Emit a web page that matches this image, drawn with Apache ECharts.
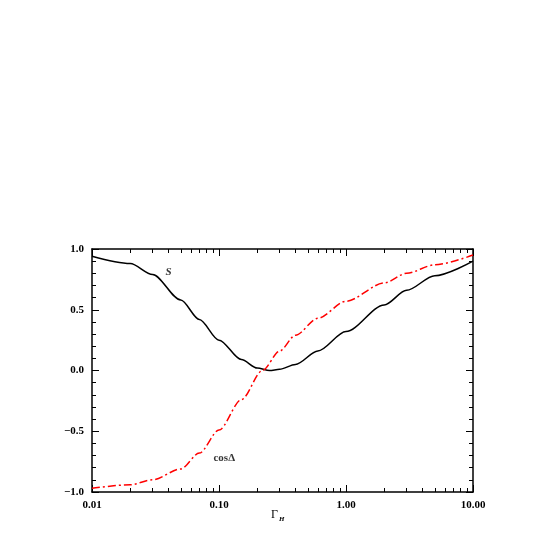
<!DOCTYPE html>
<html><head><meta charset="utf-8">
<script src="https://cdn.jsdelivr.net/npm/echarts@6/dist/echarts.min.js"></script>
<style>html,body{margin:0;padding:0;background:#fff}#c{width:554px;height:554px}</style>
</head><body><div id="c"></div>
<script>
const xS=[0.01,0.02,0.03,0.05,0.07,0.1,0.15,0.2,0.25,0.3,0.4,0.6,1,2,3,5,10];
const yS=[0.94,0.88,0.79,0.58,0.42,0.25,0.09,0.02,0.0,0.01,0.05,0.16,0.32,0.54,0.66,0.78,0.9];
const xC=[0.01,0.02,0.03,0.05,0.07,0.1,0.15,0.22,0.3,0.4,0.6,1,2,3,5,10];
const yC=[-0.97,-0.94,-0.9,-0.81,-0.68,-0.49,-0.24,0.0,0.16,0.29,0.43,0.57,0.72,0.8,0.87,0.95];
const yTicks=[1.0,0.5,0.0,-0.5,-1.0];
const font='"Liberation Serif","DejaVu Serif",serif';
const chart=echarts.init(document.getElementById('c'));
const tick={inside:true,length:7,lineStyle:{color:'#000'}};
const lab={fontFamily:font,fontWeight:'bold',fontSize:11,color:'#000'};
const line={onZero:false,lineStyle:{color:'#000',width:1.5}};
chart.setOption({
 animation:false,
 grid:{left:92,right:81,top:249,bottom:62},
 xAxis:[{type:'log',min:0.01,max:10,logBase:10,position:'bottom',
  axisLine:line,axisTick:tick,
  minorTick:{show:true,splitNumber:9,length:4,lineStyle:{color:'#000'}},
  splitLine:{show:false},
  axisLabel:Object.assign({formatter:v=>v.toFixed(2)},lab)},
  {type:'log',min:0.01,max:10,logBase:10,position:'top',axisLine:line,axisTick:tick,
  minorTick:{show:true,splitNumber:9,length:4,lineStyle:{color:'#000'}},splitLine:{show:false},axisLabel:{show:false}}],
 yAxis:[{type:'value',min:-1,max:1,interval:0.5,position:'left',
  axisLine:line,axisTick:tick,
  minorTick:{show:true,splitNumber:5,length:4,lineStyle:{color:'#000'}},
  splitLine:{show:false},
  axisLabel:Object.assign({formatter:v=>v.toFixed(1).replace('-','\u2212')},lab)},
  {type:'value',min:-1,max:1,interval:0.5,position:'right',axisLine:line,axisTick:tick,
  minorTick:{show:true,splitNumber:5,length:4,lineStyle:{color:'#000'}},splitLine:{show:false},axisLabel:{show:false}}],
 series:[
  {type:'line',smooth:0.3,smoothMonotone:'x',symbol:'none',data:xS.map((x,i)=>[x,yS[i]]),lineStyle:{color:'#000',width:1.5}},
  {type:'line',smooth:0.3,smoothMonotone:'x',symbol:'none',data:xC.map((x,i)=>[x,yC[i]]),lineStyle:{color:'#f00',width:1.5,type:[8,3,2,3]}},
  {type:'scatter',symbolSize:0,data:[[0.04,0.81]],label:{show:true,formatter:'S',fontFamily:font,fontStyle:'italic',fontWeight:'bold',fontSize:11,color:'#000'}},
  {type:'scatter',symbolSize:0,data:[[0.11,-0.72]],label:{show:true,formatter:'cosΔ',fontFamily:font,fontWeight:'bold',fontSize:11,color:'#000'}}
 ],
 graphic:[{type:'text',left:271,top:509,style:{text:'Γ',font:'12px '+font,fill:'#000'}},
  {type:'text',left:279,top:516,style:{text:'H',font:'italic bold 7px '+font,fill:'#000'}}]
});
</script></body></html>
